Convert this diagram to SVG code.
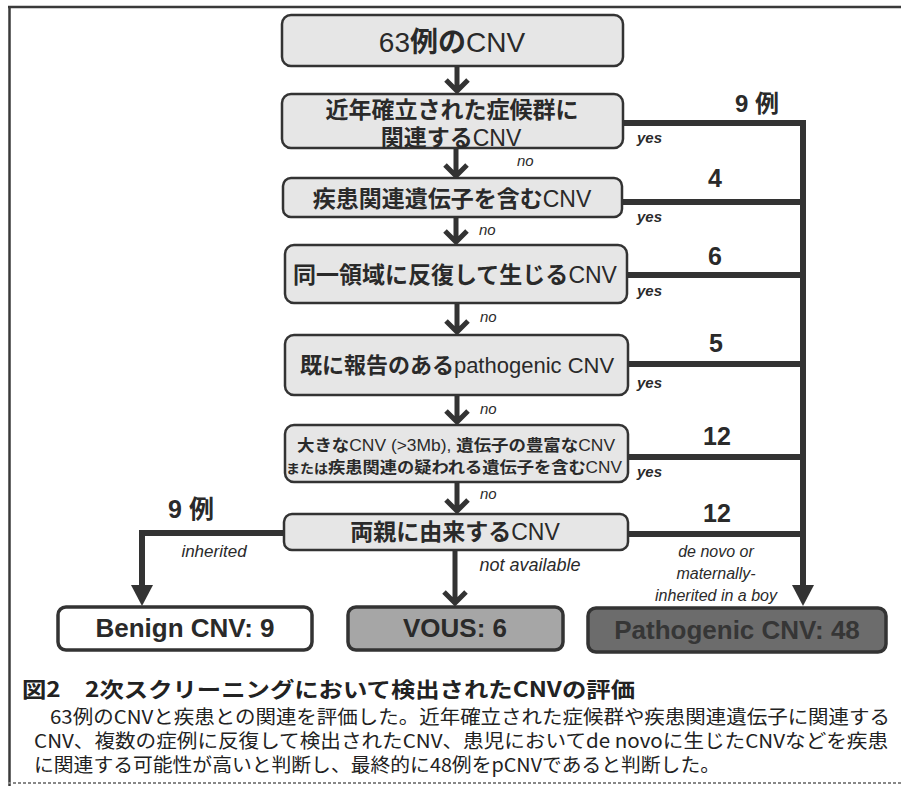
<svg xmlns="http://www.w3.org/2000/svg" width="901" height="786" viewBox="0 0 901 786">
<defs>
<style>
.box{fill:#e6e6e6;stroke:#333;stroke-width:2.5}
.jp{font-family:"Noto Sans CJK JP","Liberation Sans",sans-serif;font-weight:700;fill:#2a2a2a}
.lat{font-family:"Liberation Sans",Arial,sans-serif;font-weight:400;fill:#2a2a2a}
.num{font-family:"Liberation Sans","Noto Sans CJK JP",sans-serif;font-weight:700;fill:#2a2a2a}
.it{font-family:"Liberation Sans",Arial,sans-serif;font-style:italic;fill:#2a2a2a}
.yes{font-family:"Liberation Sans",Arial,sans-serif;font-style:italic;font-weight:700;font-size:15px;fill:#2a2a2a}
.no{font-family:"Liberation Sans",Arial,sans-serif;font-style:italic;font-size:15px;fill:#2a2a2a}
.line{fill:none;stroke:#333;stroke-width:6}
.arr{fill:none;stroke:#333;stroke-width:5}
.head{fill:#333}
.res{font-family:"Liberation Sans",Arial,sans-serif;font-weight:700;font-size:26px;text-anchor:middle}
.cap{font-family:"Noto Sans CJK JP",sans-serif;fill:#222}
</style>
</defs>
<rect width="901" height="786" fill="#fff"/>
<!-- frame -->
<g id="frame" fill="none">
<line x1="8" y1="7" x2="901" y2="7" stroke="#3a3a3a" stroke-width="2.5"/>
<line x1="9.5" y1="6" x2="9.5" y2="786" stroke="#3a3a3a" stroke-width="2.5"/>
<line x1="8" y1="783" x2="901" y2="783" stroke="#888" stroke-width="2" stroke-dasharray="3 2"/>
</g>
<!-- connectors -->
<g id="connectors">
<path class="arr" d="M457 66V91M446 80L457 91L468 80"/>
<path class="arr" d="M456 148V176M445 165L456 176L467 165"/>
<path class="arr" d="M456 217V242M445 231L456 242L467 231"/>
<path class="arr" d="M457 303V332M446 321L457 332L468 321"/>
<path class="arr" d="M457 395V422M446 411L457 422L468 411"/>
<path class="arr" d="M457 482V511M446 500L457 511L468 500"/>
<path class="arr" d="M455 550V603M444 592L455 603L466 592"/>
<path class="line" d="M624 123H803V588"/>
<path class="line" d="M622 202H803M627 275H803M628 364H803M628 457H803M628 534H803"/>
<polygon class="head" points="792,585 814,585 803,606"/>
<path class="line" d="M285 533H142V588"/>
<polygon class="head" points="131,585 153,585 142,606"/>
<text class="num" x="757" y="112" font-size="24" text-anchor="middle">9 例</text>
<text class="num" x="715" y="187" font-size="25" text-anchor="middle">4</text>
<text class="num" x="715" y="265" font-size="25" text-anchor="middle">6</text>
<text class="num" x="716" y="352" font-size="25" text-anchor="middle">5</text>
<text class="num" x="717" y="445" font-size="25" text-anchor="middle">12</text>
<text class="num" x="717" y="522" font-size="25" text-anchor="middle">12</text>
<text class="num" x="191" y="518" font-size="25" text-anchor="middle">9 例</text>
<text class="yes" x="637" y="143">yes</text>
<text class="yes" x="637" y="222">yes</text>
<text class="yes" x="637" y="296">yes</text>
<text class="yes" x="637" y="388">yes</text>
<text class="yes" x="637" y="477">yes</text>
<text class="no" x="517" y="166">no</text>
<text class="no" x="479" y="235">no</text>
<text class="no" x="480" y="322">no</text>
<text class="no" x="480" y="414">no</text>
<text class="no" x="480" y="499">no</text>
<text class="it" x="214" y="557" font-size="17" text-anchor="middle">inherited</text>
<text class="it" x="530" y="571" font-size="18" text-anchor="middle">not available</text>
<text class="it" x="716" y="557" font-size="16" text-anchor="middle">de novo or</text>
<text class="it" x="716" y="579" font-size="16" text-anchor="middle">maternally-</text>
<text class="it" x="716" y="601" font-size="16" text-anchor="middle">inherited in a boy</text>
</g>
<!-- nodes -->
<g id="n-start">
<rect class="box" x="282" y="15" width="341" height="51" rx="9" stroke-width="3.5"/>
<text x="452" y="52" text-anchor="middle" font-size="28"><tspan class="lat">63</tspan><tspan class="jp" font-weight="400">例の</tspan><tspan class="lat">CNV</tspan></text>
</g>
<g id="n-syndrome">
<rect class="box" x="282" y="94" width="341" height="54" rx="9"/>
<text class="jp" x="452" y="118" text-anchor="middle" font-size="23">近年確立された症候群に</text>
<text x="451" y="146" text-anchor="middle" font-size="23"><tspan class="jp">関連する</tspan><tspan class="lat">CNV</tspan></text>
</g>
<g id="n-gene">
<rect class="box" x="283" y="178" width="339" height="39" rx="8"/>
<text x="452" y="207" text-anchor="middle" font-size="23"><tspan class="jp">疾患関連遺伝子を含む</tspan><tspan class="lat">CNV</tspan></text>
</g>
<g id="n-recurrent">
<rect class="box" x="285" y="245" width="342" height="58" rx="9"/>
<text x="455" y="283" text-anchor="middle" font-size="23"><tspan class="jp">同一領域に反復して生じる</tspan><tspan class="lat">CNV</tspan></text>
</g>
<g id="n-reported">
<rect class="box" x="285" y="335" width="343" height="60" rx="9"/>
<text x="457" y="373" text-anchor="middle" font-size="22"><tspan class="jp">既に報告のある</tspan><tspan class="lat">pathogenic CNV</tspan></text>
</g>
<g id="n-large">
<rect class="box" x="285" y="425" width="343" height="57" rx="9"/>
<text x="456" y="451" text-anchor="middle" font-size="16" textLength="318" lengthAdjust="spacingAndGlyphs"><tspan class="jp">大きな</tspan><tspan class="lat">CNV (&gt;3Mb), </tspan><tspan class="jp">遺伝子の豊富な</tspan><tspan class="lat">CNV</tspan></text>
<text x="454" y="473" text-anchor="middle" font-size="16" textLength="336" lengthAdjust="spacingAndGlyphs"><tspan class="jp" font-size="13">または</tspan><tspan class="jp">疾患関連の疑われる遺伝子を含む</tspan><tspan class="lat">CNV</tspan></text>
</g>
<g id="n-parents">
<rect class="box" x="284" y="514" width="344" height="36" rx="8"/>
<text x="455" y="540" text-anchor="middle" font-size="23"><tspan class="jp">両親に由来する</tspan><tspan class="lat">CNV</tspan></text>
</g>
<g id="n-benign">
<rect x="58" y="607" width="254" height="43" rx="8" fill="#fff" stroke="#333" stroke-width="3.5"/>
<text class="res" x="185" y="637" fill="#2a2a2a">Benign CNV: 9</text>
</g>
<g id="n-vous">
<rect x="348" y="607" width="215" height="43" rx="8" fill="#a6a6a6" stroke="#333" stroke-width="3.5"/>
<text class="res" x="455" y="637" fill="#2a2a2a">VOUS: 6</text>
</g>
<g id="n-pathogenic">
<rect x="588" y="608" width="298" height="44" rx="8" fill="#6c6c6c" stroke="#333" stroke-width="3.5"/>
<text class="res" x="737" y="639" fill="#363636">Pathogenic CNV: 48</text>
</g>
<!-- caption -->
<g id="caption">
<text class="cap" x="22" y="697" font-size="21" font-weight="700" textLength="613" lengthAdjust="spacingAndGlyphs">図2　2次スクリーニングにおいて検出されたCNVの評価</text>
<text class="cap" x="50" y="724" font-size="19" textLength="840" lengthAdjust="spacingAndGlyphs">63例のCNVと疾患との関連を評価した。近年確立された症候群や疾患関連遺伝子に関連する</text>
<text class="cap" x="34" y="748" font-size="19" textLength="854" lengthAdjust="spacingAndGlyphs">CNV、複数の症例に反復して検出されたCNV、患児においてde novoに生じたCNVなどを疾患</text>
<text class="cap" x="34" y="772" font-size="19" textLength="686" lengthAdjust="spacingAndGlyphs">に関連する可能性が高いと判断し、最終的に48例をpCNVであると判断した。</text>
</g>
</svg>
